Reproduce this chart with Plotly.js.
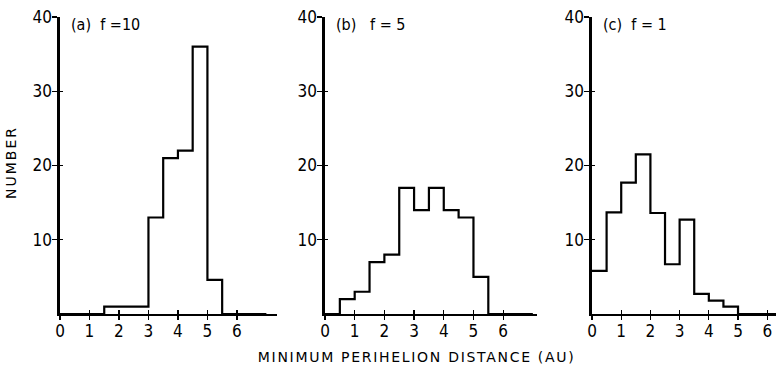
<!DOCTYPE html>
<html><head><meta charset="utf-8">
<script src="https://cdn.plot.ly/plotly-3.0.1.min.js"></script>
<style>
body{margin:0;background:#fff}
.spaced text{letter-spacing:1.7px}
.spaced2 text{letter-spacing:2px}
</style>
</head><body><div id="chart" style="width:776px;height:370px"></div>
<script>
// ---- data ----
const binWidth = 0.5;               // histogram bins of 0.5 AU starting at 0
const countsA = [0, 0, 0, 1, 1, 1, 13, 21, 22, 36, 4.6, 0, 0, 0];
const countsB = [0, 2, 3, 7, 8, 17, 14, 17, 14, 13, 5, 0, 0, 0];
const countsC = [5.8, 13.7, 17.7, 21.5, 13.6, 6.7, 12.7, 2.7, 1.8, 1.0, 0, 0, 0];
const panelLabels = ['(a)  f =10', '(b)   f = 5', '(c)  f = 1'];
const xTickVals = [0, 1, 2, 3, 4, 5, 6];
const yTickVals = [10, 20, 30, 40];
const yTickText = ['10', '20', '30', '40'];
const xTitle = 'MINIMUM PERIHELION DISTANCE (AU)';
const yTitle = 'NUMBER';

// ---- layout geometry ----
const W = 776, H = 370, mt = 17, mb = 56;
const plotH = H - mt - mb;
const panels = [
  {counts: countsA, px0: 60, px1: 277, xmax: 7.36},
  {counts: countsB, px0: 325, px1: 537, xmax: 7.14},
  {counts: countsC, px0: 592, px1: 776, xmax: 6.30}
];
const font = 'DejaVu Sans Condensed, DejaVu Sans, sans-serif';

const traces = [];
const layout = {
  width: W, height: H,
  margin: {l: 0, r: 0, t: mt, b: mb, pad: 0},
  paper_bgcolor: '#fff', plot_bgcolor: 'rgba(0,0,0,0)',
  showlegend: false,
  font: {family: font, color: '#000', size: 17},
  annotations: []
};

panels.forEach((p, i) => {
  const n = i + 1;
  const ox = n + 3; // overlay axis index
  const xs = p.counts.map((_, k) => k * binWidth).concat([p.counts.length * binWidth]);
  const ys = p.counts.concat([p.counts[p.counts.length - 1]]);
  traces.push({
    x: xs, y: ys, type: 'scatter', mode: 'lines',
    line: {shape: 'hv', color: '#000', width: 2.2},
    xaxis: 'x' + (n === 1 ? '' : n), yaxis: 'y' + (n === 1 ? '' : n),
    hoverinfo: 'skip'
  });
  traces.push({x: [], y: [], type: 'scatter', mode: 'lines', xaxis: 'x' + ox, yaxis: 'y' + ox});
  const dom = [p.px0 / W, p.px1 / W];
  const xk = 'xaxis' + (n === 1 ? '' : n), yk = 'yaxis' + (n === 1 ? '' : n);
  layout[xk] = {
    domain: dom, range: [0, p.xmax], anchor: 'y' + (n === 1 ? '' : n),
    showgrid: false, zeroline: false, showline: true, linecolor: '#000', linewidth: 1.8,
    tickmode: 'array', tickvals: xTickVals, ticktext: xTickVals.map(String),
    ticks: 'outside', ticklen: 4, tickwidth: 1.3, tickcolor: '#000', ticklabelstandoff: -3,
    tickfont: {family: font, size: 17, color: '#000'}, fixedrange: true
  };
  layout[yk] = {
    domain: [0, 1], range: [0, 40], anchor: 'x' + (n === 1 ? '' : n),
    showgrid: false, zeroline: false, showline: true, linecolor: '#000', linewidth: 2.6,
    tickmode: 'array', tickvals: yTickVals, ticktext: yTickText,
    ticks: 'outside', ticklen: 5, tickwidth: 1.3, tickcolor: '#000', ticklabelstandoff: -3,
    tickfont: {family: font, size: 17, color: '#000'}, fixedrange: true
  };
  layout['xaxis' + ox] = {
    overlaying: 'x' + (n === 1 ? '' : n), anchor: 'y' + ox, range: [0, p.xmax],
    showgrid: false, zeroline: false, showline: false, showticklabels: false,
    tickmode: 'array', tickvals: xTickVals, ticks: 'inside', ticklen: 4, tickwidth: 1.3, tickcolor: '#000'
  };
  layout['yaxis' + ox] = {
    overlaying: 'y' + (n === 1 ? '' : n), anchor: 'x' + ox, range: [0, 40],
    showgrid: false, zeroline: false, showline: false, showticklabels: false,
    tickmode: 'array', tickvals: yTickVals, ticks: 'inside', ticklen: 3, tickwidth: 1.3, tickcolor: '#000'
  };
  layout.annotations.push({
    text: panelLabels[i], xref: 'paper', yref: 'paper',
    x: (p.px0 + 9) / W, y: (H - mb - 25) / plotH, xanchor: 'left', yanchor: 'middle',
    showarrow: false, font: {family: font, size: 16, color: '#000'}
  });
});

layout.annotations.push({
  text: yTitle, xref: 'paper', yref: 'paper', x: 11 / W, y: (H - mb - 163) / plotH,
  xanchor: 'center', yanchor: 'middle', textangle: -90, showarrow: false,
  font: {family: 'DejaVu Sans, sans-serif', size: 14, color: '#000'}
});
layout.annotations.push({
  text: xTitle, xref: 'paper', yref: 'paper', x: 416 / W, y: (H - mb - 357) / plotH,
  xanchor: 'center', yanchor: 'middle', showarrow: false,
  font: {family: 'DejaVu Sans, sans-serif', size: 14, color: '#000'}
});

Plotly.newPlot('chart', traces, layout, {staticPlot: true, displayModeBar: false}).then(() => {
  const anns = document.querySelectorAll('.annotation');
  anns[anns.length - 1].classList.add('spaced');
  anns[anns.length - 2].classList.add('spaced2');
});
</script>
</body></html>
